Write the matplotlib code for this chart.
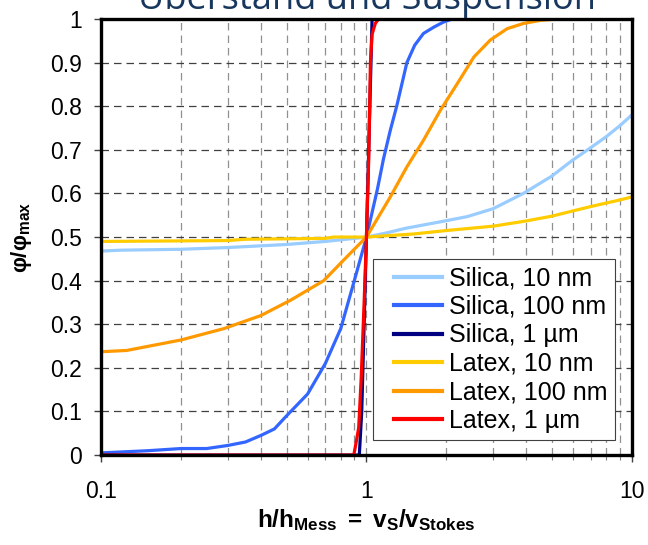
import numpy as np
import matplotlib
matplotlib.use("Agg")
import matplotlib.pyplot as plt
from matplotlib.ticker import LogLocator, NullFormatter, FixedLocator
from matplotlib.lines import Line2D
from matplotlib.legend_handler import HandlerLine2D

plt.rcParams['font.family'] = ['Liberation Sans', 'DejaVu Sans']
plt.rcParams['mathtext.fontset'] = 'custom'
plt.rcParams['mathtext.rm'] = 'Liberation Sans'
plt.rcParams['mathtext.bf'] = 'Liberation Sans:bold'
plt.rcParams['mathtext.it'] = 'Liberation Sans:italic'

# Silica, 10 nm
si10_x = [0.1, 0.12, 0.2, 0.3, 0.5, 0.7, 0.9, 1.0, 1.2, 1.4, 1.9, 2.4, 3.0, 3.9, 5.0, 6.0, 7.0, 8.0, 9.0, 10.0]
si10_y = [0.468, 0.47, 0.472, 0.476, 0.483, 0.49, 0.497, 0.5, 0.51, 0.52, 0.535, 0.547, 0.565, 0.6, 0.64, 0.677, 0.705, 0.73, 0.755, 0.78]

# Silica, 100 nm
si100_x = [0.1, 0.15, 0.2, 0.25, 0.3, 0.35, 0.4, 0.45, 0.5, 0.6, 0.7, 0.8, 0.9, 1.0, 1.1, 1.16, 1.23, 1.3, 1.42, 1.52, 1.64, 1.8, 1.95, 2.1, 10.0]
si100_y = [0.005, 0.01, 0.015, 0.015, 0.022, 0.03, 0.045, 0.06, 0.09, 0.14, 0.21, 0.29, 0.4, 0.5, 0.61, 0.68, 0.745, 0.8, 0.9, 0.94, 0.967, 0.982, 0.993, 1.0, 1.0]

# Silica, 1 um
si1_x = [0.1, 0.94, 0.96, 0.98, 1.0, 1.02, 1.04, 1.05, 10.0]
si1_y = [0.0, 0.0, 0.1, 0.3, 0.5, 0.7, 0.9, 1.0, 1.0]

# Latex, 10 nm
la10_x = [0.1, 0.3, 0.35, 0.7, 0.75, 1.0, 1.5, 2.0, 3.0, 4.0, 5.0, 6.0, 7.0, 8.0, 9.0, 10.0]
la10_y = [0.49, 0.492, 0.495, 0.497, 0.5, 0.5, 0.507, 0.515, 0.525, 0.537, 0.548, 0.56, 0.57, 0.578, 0.585, 0.592]

# Latex, 100 nm
la100_x = [0.1, 0.125, 0.2, 0.29, 0.4, 0.517, 0.69, 0.82, 0.92, 1.0, 1.23, 1.42, 1.64, 1.9, 2.2, 2.54, 2.93, 3.39, 3.91, 4.52, 5.2, 10.0]
la100_y = [0.237, 0.24, 0.264, 0.29, 0.32, 0.355, 0.40, 0.447, 0.478, 0.5, 0.592, 0.661, 0.722, 0.791, 0.852, 0.913, 0.952, 0.978, 0.99, 0.997, 1.0, 1.0]

# Latex, 1 um
la1_x = [0.1, 0.896, 0.915, 0.935, 0.955, 0.98, 1.0, 1.02, 1.035, 1.05, 1.08, 1.11, 10.0]
la1_y = [0.0, 0.0, 0.03, 0.063, 0.174, 0.35, 0.5, 0.68, 0.9, 0.965, 0.99, 1.0, 1.0]

series = [
    ("Silica, 10 nm", si10_x, si10_y, "#99CCFF"),
    ("Silica, 100 nm", si100_x, si100_y, "#3366FF"),
    ("Silica, 1 µm", si1_x, si1_y, "#000080"),
    ("Latex, 10 nm", la10_x, la10_y, "#FFCC00"),
    ("Latex, 100 nm", la100_x, la100_y, "#FF9900"),
    ("Latex, 1 µm", la1_x, la1_y, "#FF0000"),
]

fig = plt.figure(figsize=(6.48, 5.45), dpi=100)
ax = fig.add_axes([0.156, 0.165, 0.819, 0.800])

for label, xs, ys, col in series:
    ax.plot(xs, ys, color=col, lw=2.3, label=label, solid_joinstyle='round')

ax.set_xscale('log')
ax.set_xlim(0.1, 10)
ax.set_ylim(0, 1)

ax.set_yticks(np.arange(0, 1.01, 0.1))
ax.set_yticklabels(['0', '0.1', '0.2', '0.3', '0.4', '0.5', '0.6', '0.7', '0.8', '0.9', '1'])
ax.xaxis.set_major_locator(FixedLocator([0.1, 1, 10]))
ax.set_xticklabels(['0.1', '1', '10'])
ax.xaxis.set_minor_locator(LogLocator(base=10, subs=np.arange(2, 10)))
ax.xaxis.set_minor_formatter(NullFormatter())

ax.tick_params(axis='both', which='major', labelsize=16.5, direction='out', length=5, width=1, color='#404040')
ax.tick_params(axis='x', which='major', pad=13)
ax.tick_params(axis='x', which='minor', direction='out', length=3.5, width=0.8, color='#808080')
ax.tick_params(axis='y', pad=9)

ax.grid(True, axis='y', which='major', ls=(0, (6, 4)), color='#404040', lw=0.9)
ax.grid(True, axis='x', which='both', ls=(0, (6, 4)), color='#909090', lw=0.9)
ax.set_axisbelow(True)

for sp in ax.spines.values():
    sp.set_linewidth(2.4)
    sp.set_color('black')

ax.set_xlabel(r'$\mathbf{h/h_{Mess}\ =\ v_{S}/v_{Stokes}}$', fontsize=17.5, labelpad=3)
ax.set_ylabel(r'$\mathbf{φ/φ_{max}}$', fontsize=16, labelpad=11)

# line in the legend starts a bit right of the frame, like the original
leg = ax.legend(loc='lower right', bbox_to_anchor=(0.968, 0.034), fontsize=18,
                fancybox=False, edgecolor='#404040', framealpha=1,
                handlelength=2.45, handletextpad=0.28, labelspacing=0.18,
                borderpad=0.3, borderaxespad=0,
                handler_map={Line2D: HandlerLine2D(xpad=0.52)})
leg.get_frame().set_linewidth(0.8)
for h in leg.get_lines():
    h.set_linewidth(3)

fig.text(0.567, 1 - 9.5 / 545, 'Überstand und Suspension', fontsize=26, color='#17375E',
         ha='center', va='baseline', family=['Open Sans', 'DejaVu Sans'])

fig.savefig('out.png', dpi=100)
